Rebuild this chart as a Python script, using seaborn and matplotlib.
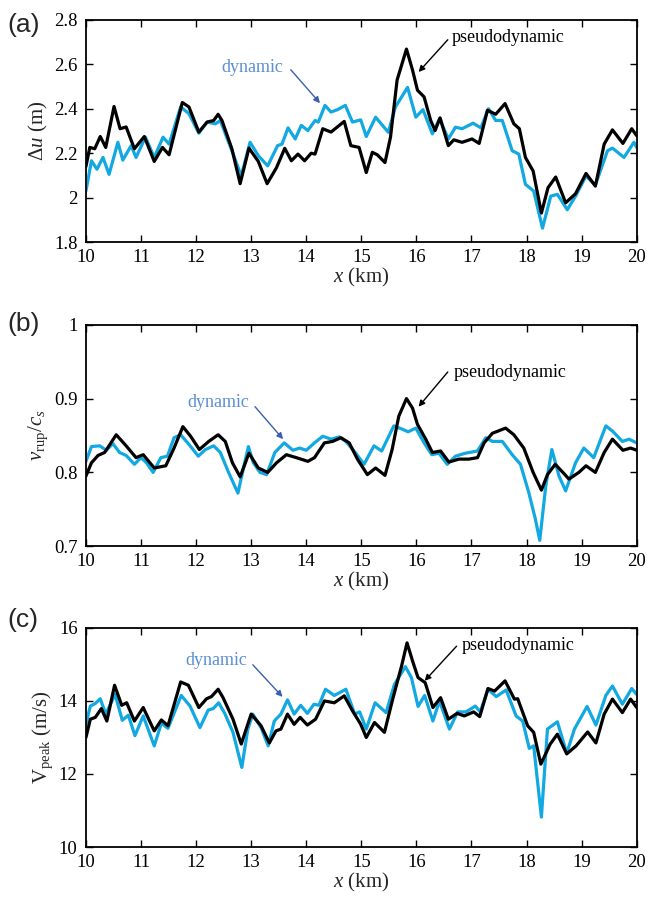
import matplotlib
matplotlib.use("Agg")
import matplotlib.pyplot as plt
import seaborn as sns
import pandas as pd

# ---- Panel (a): fault slip Δu (m) ----
a_dyn_x = [10.0, 10.1, 10.2, 10.31, 10.42, 10.58, 10.67, 10.82, 10.91, 11.08, 11.24, 11.4, 11.51,
           11.72, 11.87, 12.05, 12.2, 12.35, 12.44, 12.65, 12.82, 12.98, 13.13, 13.3, 13.48, 13.56,
           13.67, 13.8, 13.91, 14.03, 14.16, 14.22, 14.34, 14.45, 14.57, 14.71, 14.84, 14.99, 15.09,
           15.26, 15.49, 15.62, 15.84, 15.99, 16.12, 16.29, 16.42, 16.58, 16.71, 16.83, 17.03, 17.17,
           17.31, 17.44, 17.56, 17.74, 17.86, 17.98, 18.13, 18.29, 18.44, 18.56, 18.74, 18.89, 19.08,
           19.25, 19.47, 19.56, 19.77, 19.95, 20.0]
a_dyn = [2.03, 2.166, 2.128, 2.181, 2.105, 2.249, 2.169, 2.234, 2.181, 2.272, 2.181, 2.272, 2.241,
         2.408, 2.378, 2.29, 2.34, 2.332, 2.347, 2.211, 2.098, 2.249, 2.189, 2.143, 2.234, 2.241,
         2.314, 2.264, 2.325, 2.302, 2.347, 2.34, 2.415, 2.385, 2.396, 2.415, 2.34, 2.35, 2.275,
         2.362, 2.294, 2.408, 2.496, 2.362, 2.396, 2.287, 2.355, 2.264, 2.317, 2.31, 2.335, 2.314,
         2.4, 2.347, 2.347, 2.211, 2.196, 2.06, 2.03, 1.863, 2.007, 2.015, 1.946, 2.007, 2.098,
         2.057, 2.211, 2.223, 2.181, 2.249, 2.226]
a_pse_x = [10.0, 10.07, 10.16, 10.26, 10.36, 10.51, 10.62, 10.73, 10.88, 11.06, 11.24, 11.39, 11.51,
           11.75, 11.87, 12.05, 12.2, 12.32, 12.4, 12.47, 12.65, 12.8, 12.96, 13.13, 13.29, 13.46,
           13.61, 13.73, 13.85, 13.97, 14.09, 14.16, 14.3, 14.45, 14.69, 14.81, 14.96, 15.09, 15.2,
           15.29, 15.43, 15.53, 15.65, 15.82, 15.93, 16.02, 16.14, 16.26, 16.34, 16.43, 16.58, 16.68,
           16.83, 17.01, 17.14, 17.29, 17.44, 17.61, 17.77, 17.87, 17.98, 18.12, 18.27, 18.39, 18.53,
           18.71, 18.89, 19.08, 19.25, 19.41, 19.56, 19.75, 19.91, 20.0]
a_pse = [2.14, 2.226, 2.22, 2.275, 2.226, 2.41, 2.31, 2.318, 2.22, 2.275, 2.163, 2.226, 2.193,
         2.428, 2.408, 2.295, 2.34, 2.347, 2.375, 2.347, 2.22, 2.063, 2.223, 2.163, 2.063, 2.135,
         2.222, 2.166, 2.196, 2.166, 2.2, 2.196, 2.31, 2.295, 2.343, 2.234, 2.226, 2.113, 2.204,
         2.193, 2.158, 2.272, 2.529, 2.668, 2.574, 2.483, 2.453, 2.347, 2.302, 2.359, 2.234, 2.26,
         2.249, 2.264, 2.244, 2.393, 2.375, 2.423, 2.332, 2.31, 2.181, 2.12, 1.931, 2.045, 2.093,
         1.977, 2.018, 2.109, 2.052, 2.241, 2.305, 2.244, 2.31, 2.279]

# ---- Panel (b): rupture velocity ratio ----
b_dyn_x = [10.0, 10.1, 10.25, 10.37, 10.49, 10.61, 10.73, 10.88, 11.0, 11.1, 11.22, 11.36, 11.48,
           11.6, 11.72, 11.87, 12.04, 12.17, 12.32, 12.44, 12.59, 12.76, 12.86, 12.95, 13.04, 13.16,
           13.28, 13.43, 13.6, 13.76, 13.88, 14.0, 14.15, 14.3, 14.45, 14.6, 14.72, 14.9, 15.05,
           15.23, 15.37, 15.59, 15.73, 15.85, 15.99, 16.14, 16.28, 16.41, 16.56, 16.71, 16.89, 17.11,
           17.26, 17.38, 17.56, 17.74, 17.89, 18.04, 18.16, 18.24, 18.35, 18.46, 18.59, 18.71, 18.89,
           19.04, 19.22, 19.44, 19.56, 19.74, 19.86, 20.0]
b_dyn = [0.815, 0.835, 0.836, 0.83, 0.839, 0.827, 0.823, 0.811, 0.82, 0.813, 0.8, 0.82, 0.822,
         0.847, 0.851, 0.838, 0.822, 0.831, 0.836, 0.827, 0.8, 0.772, 0.806, 0.835, 0.813, 0.8,
         0.797, 0.827, 0.84, 0.83, 0.833, 0.83, 0.84, 0.849, 0.845, 0.848, 0.842, 0.826, 0.811,
         0.836, 0.829, 0.863, 0.859, 0.855, 0.86, 0.84, 0.824, 0.826, 0.811, 0.822, 0.826, 0.829,
         0.847, 0.842, 0.842, 0.824, 0.811, 0.773, 0.737, 0.708, 0.782, 0.831, 0.795, 0.775, 0.813,
         0.833, 0.82, 0.863, 0.856, 0.842, 0.845, 0.84]
b_pse_x = [10.0, 10.1, 10.22, 10.34, 10.55, 10.73, 10.91, 11.04, 11.24, 11.45, 11.6, 11.76, 11.9,
           12.06, 12.23, 12.4, 12.53, 12.66, 12.8, 12.96, 13.13, 13.3, 13.46, 13.64, 13.82, 14.03,
           14.15, 14.33, 14.48, 14.63, 14.78, 14.93, 15.11, 15.26, 15.43, 15.56, 15.68, 15.82, 15.93,
           16.02, 16.17, 16.29, 16.44, 16.59, 16.77, 16.95, 17.11, 17.23, 17.38, 17.62, 17.77, 17.95,
           18.12, 18.27, 18.38, 18.52, 18.66, 18.77, 18.95, 19.08, 19.25, 19.41, 19.56, 19.75, 19.89,
           20.0]
b_pse = [0.795, 0.813, 0.823, 0.827, 0.851, 0.836, 0.82, 0.824, 0.806, 0.809, 0.833, 0.862, 0.849,
         0.831, 0.842, 0.851, 0.842, 0.813, 0.794, 0.826, 0.806, 0.8, 0.813, 0.824, 0.82, 0.815,
         0.82, 0.84, 0.842, 0.847, 0.84, 0.818, 0.797, 0.806, 0.796, 0.831, 0.876, 0.9, 0.887,
         0.865, 0.845, 0.827, 0.829, 0.814, 0.818, 0.818, 0.82, 0.84, 0.853, 0.86, 0.851, 0.833,
         0.8, 0.776, 0.797, 0.811, 0.8, 0.791, 0.8, 0.809, 0.8, 0.827, 0.845, 0.83, 0.833,
         0.83]

# ---- Panel (c): peak slip velocity (m/s) ----
c_dyn_x = [10.0, 10.08, 10.17, 10.26, 10.36, 10.53, 10.66, 10.77, 10.89, 11.04, 11.24, 11.37, 11.49,
           11.73, 11.89, 12.07, 12.22, 12.31, 12.41, 12.52, 12.67, 12.83, 12.94, 13.03, 13.18, 13.31,
           13.42, 13.54, 13.66, 13.78, 13.9, 14.02, 14.14, 14.23, 14.35, 14.51, 14.72, 14.88, 14.97,
           15.09, 15.25, 15.45, 15.6, 15.8, 15.91, 16.03, 16.15, 16.3, 16.42, 16.6, 16.75, 16.9,
           17.07, 17.16, 17.3, 17.45, 17.63, 17.81, 17.93, 18.05, 18.13, 18.27, 18.38, 18.56, 18.73,
           18.87, 19.1, 19.26, 19.44, 19.56, 19.74, 19.91, 20.0]
c_dyn = [13.36, 13.86, 13.93, 14.06, 13.64, 14.18, 13.47, 13.61, 13.05, 13.59, 12.77, 13.39, 13.25,
         14.15, 13.86, 13.27, 13.75, 13.79, 13.95, 13.66, 13.14, 12.18, 13.23, 13.64, 13.27, 12.77,
         13.45, 13.64, 14.03, 13.64, 13.88, 13.66, 13.91, 13.88, 14.32, 14.15, 14.32, 13.64, 13.7,
         13.23, 13.95, 13.68, 14.45, 14.94, 14.64, 13.85, 14.15, 13.45, 14.0, 13.23, 13.7, 13.7,
         13.86, 13.7, 14.32, 14.12, 14.3, 13.59, 13.45, 12.7, 12.77, 10.82, 13.23, 13.43, 12.57,
         13.23, 13.85, 13.34, 14.15, 14.41, 13.91, 14.34, 14.18]
c_pse_x = [10.0, 10.08, 10.17, 10.28, 10.38, 10.52, 10.65, 10.74, 10.88, 11.04, 11.24, 11.37, 11.49,
           11.72, 11.86, 12.05, 12.19, 12.28, 12.4, 12.49, 12.67, 12.82, 13.0, 13.18, 13.33, 13.45,
           13.54, 13.66, 13.78, 13.89, 14.02, 14.17, 14.33, 14.51, 14.69, 14.84, 14.99, 15.09, 15.24,
           15.42, 15.57, 15.73, 15.83, 15.94, 16.03, 16.16, 16.3, 16.44, 16.58, 16.74, 16.87, 17.04,
           17.15, 17.3, 17.42, 17.61, 17.78, 17.84, 18.02, 18.13, 18.26, 18.43, 18.56, 18.73, 18.9,
           19.11, 19.26, 19.41, 19.56, 19.74, 19.89, 20.0]
c_pse = [13.0, 13.5, 13.55, 13.79, 13.45, 14.43, 13.88, 13.95, 13.45, 13.82, 13.18, 13.48, 13.32,
         14.52, 14.43, 13.82, 14.06, 14.12, 14.32, 14.09, 13.5, 12.82, 13.64, 13.32, 12.85, 13.18,
         13.23, 13.64, 13.36, 13.55, 13.34, 13.5, 14.0, 13.95, 14.14, 13.73, 13.36, 13.0, 13.41,
         13.14, 14.05, 14.95, 15.59, 15.05, 14.64, 14.5, 13.82, 14.09, 13.5, 13.66, 13.59, 13.7,
         13.57, 14.34, 14.27, 14.55, 14.05, 14.06, 13.32, 13.14, 12.27, 12.82, 13.09, 12.55, 12.77,
         13.15, 12.85, 13.64, 14.05, 13.68, 14.05, 13.82]

x_ticks = [10, 11, 12, 13, 14, 15, 16, 17, 18, 19, 20]

DYN_COLOR = "#12a8e2"
PSE_COLOR = "#000000"
DYN_TEXT = "#5b8fd2"
DYN_ARROW = "#3a60ad"

sns.set_theme(style="ticks")
plt.rcParams.update({
    "font.family": ["Liberation Serif", "DejaVu Serif"],
    "mathtext.fontset": "custom",
    "mathtext.rm": "Liberation Serif",
    "mathtext.it": "Liberation Serif:italic",
    "mathtext.bf": "Liberation Serif:bold",
    "axes.linewidth": 1.3,
    "axes.edgecolor": "black",
    "xtick.color": "black",
    "ytick.color": "black",
    "xtick.labelsize": 13.5,
    "ytick.labelsize": 13.5,
})

fig = plt.figure(figsize=(6.51, 8.97), dpi=100)
left, width = 0.132, 0.846
axes = [
    fig.add_axes([left, 0.730, width, 0.248]),
    fig.add_axes([left, 0.391, width, 0.247]),
    fig.add_axes([left, 0.0557, width, 0.2443]),
]

panels = [
    dict(dx=a_dyn_x, dy=a_dyn, px=a_pse_x, py=a_pse, ylim=(1.8, 2.8),
         yticks=[1.8, 2, 2.2, 2.4, 2.6, 2.8], yticklabels=["1.8", "2", "2.2", "2.4", "2.6", "2.8"],
         ylabel=r"$\Delta u$ (m)", tag="(a)",
         dyn_txt=(13.03, 2.584), dyn_tail=(13.72, 2.575), dyn_head=(14.25, 2.425),
         pse_txt=(17.66, 2.72), pse_tail=(16.57, 2.71), pse_head=(16.04, 2.565)),
    dict(dx=b_dyn_x, dy=b_dyn, px=b_pse_x, py=b_pse, ylim=(0.7, 1.0),
         yticks=[0.7, 0.8, 0.9, 1.0], yticklabels=["0.7", "0.8", "0.9", "1"],
         ylabel=r"$v_{\mathrm{rup}}/c_{s}$", tag="(b)",
         dyn_txt=(12.4, 0.894), dyn_tail=(13.07, 0.889), dyn_head=(13.58, 0.845),
         pse_txt=(17.7, 0.935), pse_tail=(16.57, 0.936), pse_head=(16.04, 0.889)),
    dict(dx=c_dyn_x, dy=c_dyn, px=c_pse_x, py=c_pse, ylim=(10, 16),
         yticks=[10, 12, 14, 16], yticklabels=["10", "12", "14", "16"],
         ylabel=r"$\mathrm{V}_{\mathrm{peak}}$ (m/s)", tag="(c)",
         dyn_txt=(12.36, 15.1), dyn_tail=(13.03, 14.99), dyn_head=(13.57, 14.11),
         pse_txt=(17.84, 15.51), pse_tail=(16.73, 15.5), pse_head=(16.15, 14.55)),
]

tag_y = [0.985, 0.652, 0.322]

for ax, p, ty in zip(axes, panels, tag_y):
    dyn_df = pd.DataFrame({"x": p["dx"], "y": p["dy"]})
    pse_df = pd.DataFrame({"x": p["px"], "y": p["py"]})
    sns.lineplot(data=dyn_df, x="x", y="y", ax=ax, color=DYN_COLOR, lw=2.3,
                 sort=False, estimator=None, solid_joinstyle="round", solid_capstyle="round")
    sns.lineplot(data=pse_df, x="x", y="y", ax=ax, color=PSE_COLOR, lw=2.3,
                 sort=False, estimator=None, solid_joinstyle="round", solid_capstyle="round")

    ax.set_xlim(10, 20)
    ax.set_ylim(*p["ylim"])
    ax.set_xticks(x_ticks)
    ax.set_xticklabels([str(t) for t in x_ticks])
    ax.set_yticks(p["yticks"])
    ax.set_yticklabels(p["yticklabels"])
    ax.tick_params(direction="in", top=True, right=True, length=5, width=1.0)
    ax.tick_params(axis="x", pad=5)
    ax.tick_params(axis="y", pad=6)
    for s in ax.spines.values():
        s.set_visible(True)
        s.set_linewidth(1.3)
    ax.set_xlabel(r"$x$ (km)", fontsize=15, labelpad=0)
    ax.set_ylabel(p["ylabel"], fontsize=15, labelpad=3)

    ax.annotate("dynamic", xy=p["dyn_txt"], ha="center", va="center",
                fontsize=13, color=DYN_TEXT)
    ax.annotate("", xy=p["dyn_head"], xytext=p["dyn_tail"],
                arrowprops=dict(arrowstyle="-|>", color=DYN_ARROW, lw=1.0,
                                mutation_scale=9, shrinkA=0, shrinkB=0))
    ax.annotate("pseudodynamic", xy=p["pse_txt"], ha="center", va="center",
                fontsize=13, color="black")
    ax.annotate("", xy=p["pse_head"], xytext=p["pse_tail"],
                arrowprops=dict(arrowstyle="-|>", color="black", lw=1.0,
                                mutation_scale=9, shrinkA=0, shrinkB=0))

    fig.text(0.012, ty, p["tag"], fontsize=19, family=["Liberation Sans", "DejaVu Sans"],
             ha="left", va="top")

fig.savefig("out.png", dpi=100)
